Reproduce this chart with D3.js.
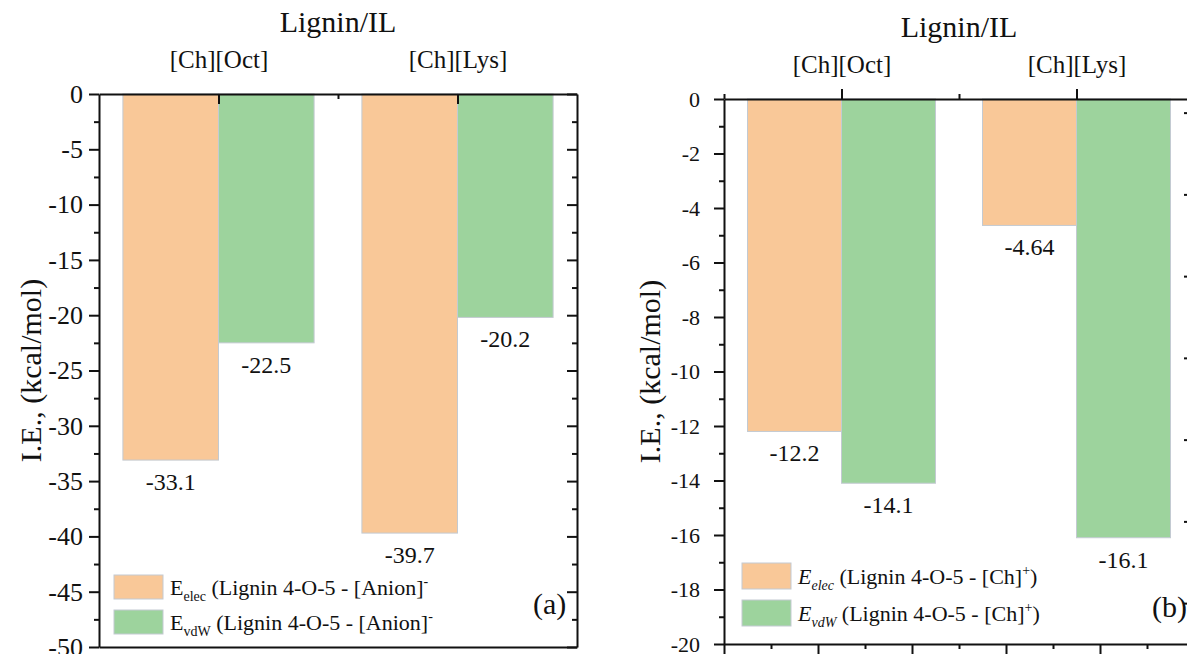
<!DOCTYPE html>
<html>
<head>
<meta charset="utf-8">
<script src="https://cdn.jsdelivr.net/npm/d3@7"></script>
<style>
  html, body { margin: 0; padding: 0; background: #fff; }
  svg { display: block; }
  text { font-family: "Liberation Serif", "Times New Roman", serif; fill: #111; }
</style>
</head>
<body>
<svg id="chart" width="1187" height="654"></svg>
<script>
// Interaction energies of lignin 4-O-5 with the ionic liquids (kcal/mol)
const categories = ["[Ch][Oct]", "[Ch][Lys]"];
const elecAnion = [-33.1, -39.7];
const vdwAnion = [-22.5, -20.2];
const elecCation = [-12.2, -4.64];
const vdwCation = [-14.1, -16.1];

const yMajorA = [0, -5, -10, -15, -20, -25, -30, -35, -40, -45, -50];
const yMinorA = [-2.5, -7.5, -12.5, -17.5, -22.5, -27.5, -32.5, -37.5, -42.5, -47.5];
const yMajorB = [0, -2, -4, -6, -8, -10, -12, -14, -16, -18, -20];
const yMinorB = [-1, -3, -5, -7, -9, -11, -13, -15, -17, -19];
// right-hand axis of panel (b) keeps its own tick spacing
const yRightMajorB = [-0.5, -3.5, -6.5, -9.5, -12.5, -15.5, -18.5];
const yRightMinorB = [-2, -5, -8, -11, -14, -17, -20];
const xBottomMajorB = [0.5, 0.9, 1.3, 1.7, 2.1, 2.5];
const xBottomMinorB = [0.7, 1.1, 1.5, 1.9, 2.3];

const ORANGE = "#f9c898";
const GREEN = "#9dd39d";
const EDGE = "#c3cad2";
const BAR_W = 0.4;

const svg = d3.select("#chart");
svg.append("rect").attr("width", 1187).attr("height", 654).attr("fill", "#fff");

function styleAxis(g, showDomain) {
  g.attr("font-family", null);
  g.selectAll("path.domain").attr("stroke", showDomain ? "#111" : "none").attr("stroke-width", 2);
  g.selectAll(".tick line").attr("stroke", "#111").attr("stroke-width", 2);
  g.selectAll(".tick text").style("font-family", '"Liberation Serif", "Times New Roman", serif').attr("fill", "#111");
}

function drawPanel(opt) {
  const x = d3.scaleLinear().domain([0.5, 2.5]).range([opt.left, opt.right]);
  const y = d3.scaleLinear().domain(opt.yDomain).range([opt.bottom, opt.top]);
  const g = svg.append("g");

  // bars: orange to the left of each category tick, green to the right
  const rows = categories.map((c, i) => ({ pos: i + 1, elec: opt.elec[i], vdw: opt.vdw[i] }));
  const bars = [];
  rows.forEach(r => {
    bars.push({ x0: r.pos - BAR_W, x1: r.pos, v: r.elec, fill: ORANGE });
    bars.push({ x0: r.pos, x1: r.pos + BAR_W, v: r.vdw, fill: GREEN });
  });
  g.selectAll("rect.bar").data(bars).enter().append("rect")
    .attr("class", "bar")
    .attr("x", d => x(d.x0))
    .attr("width", d => x(d.x1) - x(d.x0))
    .attr("y", y(0))
    .attr("height", d => y(d.v) - y(0))
    .attr("fill", d => d.fill)
    .attr("stroke", EDGE)
    .attr("stroke-width", 1);

  // value labels below each bar end
  g.selectAll("text.val").data(bars).enter().append("text")
    .attr("class", "val")
    .attr("x", d => (x(d.x0) + x(d.x1)) / 2)
    .attr("y", d => y(d.v) + 30)
    .attr("text-anchor", "middle")
    .style("font-size", "24px")
    .text(d => String(d.v));

  // left axis (outward ticks with labels)
  const left = g.append("g").attr("transform", `translate(${opt.left},0)`)
    .call(d3.axisLeft(y).tickValues(opt.yMajor).tickSize(10).tickSizeOuter(0)
      .tickPadding(opt.yPad).tickFormat(d => String(d)));
  left.selectAll(".tick text").style("font-size", opt.yFont + "px");
  styleAxis(left, true);
  const leftMinor = g.append("g").attr("transform", `translate(${opt.left},0)`)
    .call(d3.axisLeft(y).tickValues(opt.yMinor).tickSize(5).tickFormat(""));
  styleAxis(leftMinor, false);

  // right axis (inward ticks)
  const right = g.append("g").attr("transform", `translate(${opt.right},0)`)
    .call(d3.axisRight(y).tickValues(opt.rMajor).tickSize(-10).tickSizeOuter(0).tickFormat(""));
  styleAxis(right, true);
  const rightMinor = g.append("g").attr("transform", `translate(${opt.right},0)`)
    .call(d3.axisRight(y).tickValues(opt.rMinor).tickSize(-5).tickFormat(""));
  styleAxis(rightMinor, false);

  // top axis with category names
  const ts = opt.topOutward ? 1 : -1;
  const top = g.append("g").attr("transform", `translate(0,${opt.top})`)
    .call(d3.axisTop(x).tickValues([1, 2]).tickSize(10 * ts).tickSizeOuter(0)
      .tickPadding(opt.catPad).tickFormat(d => categories[d - 1]));
  top.selectAll(".tick text").style("font-size", "25px");
  styleAxis(top, true);
  const topMinor = g.append("g").attr("transform", `translate(0,${opt.top})`)
    .call(d3.axisTop(x).tickValues(opt.topMinor).tickSize(5 * ts).tickFormat(""));
  styleAxis(topMinor, false);

  // bottom axis
  const bottom = g.append("g").attr("transform", `translate(0,${opt.bottom})`)
    .call(d3.axisBottom(x).tickValues(opt.bottomMajor).tickSize(10).tickSizeOuter(0).tickFormat(""));
  styleAxis(bottom, true);
  const bottomMinor = g.append("g").attr("transform", `translate(0,${opt.bottom})`)
    .call(d3.axisBottom(x).tickValues(opt.bottomMinor).tickSize(5).tickFormat(""));
  styleAxis(bottomMinor, false);

  // panel title
  g.append("text")
    .attr("x", (opt.left + opt.right) / 2)
    .attr("y", opt.titleY)
    .attr("text-anchor", "middle")
    .style("font-size", "30px")
    .text("Lignin/IL");

  // y axis title
  g.append("text")
    .attr("transform", `translate(${opt.yTitleX},${(opt.top + opt.bottom) / 2}) rotate(-90)`)
    .attr("text-anchor", "middle")
    .style("font-size", "30px")
    .text("I.E., (kcal/mol)");

  // legend
  const lg = g.append("g");
  const items = [
    { fill: ORANGE, sub: "elec" },
    { fill: GREEN, sub: "vdW" }
  ];
  items.forEach((it, i) => {
    const sy = opt.legY + i * opt.legStep;
    lg.append("rect")
      .attr("x", opt.legX).attr("y", sy)
      .attr("width", 49).attr("height", opt.legH)
      .attr("fill", it.fill).attr("stroke", EDGE).attr("stroke-width", 1);
    const t = lg.append("text")
      .attr("x", opt.legX + 56)
      .attr("y", sy + opt.legH / 2 + 8)
      .style("font-size", "22px");
    t.append("tspan").text("E").style("font-style", opt.italic ? "italic" : "normal");
    t.append("tspan").text(it.sub).attr("dy", 6).style("font-size", "14px")
      .style("font-style", opt.italic ? "italic" : "normal");
    t.append("tspan").text(" (Lignin 4-O-5 - " + opt.partner).attr("dy", -6);
    t.append("tspan").text(opt.charge).attr("dy", -9).style("font-size", "14px");
    if (opt.tail) t.append("tspan").text(opt.tail).attr("dy", 9);
  });

  // panel tag
  g.append("text")
    .attr("x", opt.tagX)
    .attr("y", opt.tagY)
    .style("font-size", "30px")
    .text(opt.tag);
}

drawPanel({
  left: 99, right: 577, top: 94, bottom: 647,
  yDomain: [-50, 0], yMajor: yMajorA, yMinor: yMinorA, yPad: 6, yFont: 26,
  rMajor: yMajorA, rMinor: yMinorA,
  elec: elecAnion, vdw: vdwAnion,
  topOutward: false, catPad: 26, topMinor: [1.5],
  bottomMajor: [], bottomMinor: [],
  titleY: 32, yTitleX: 41,
  legX: 114, legY: 575, legStep: 35, legH: 24, italic: false,
  partner: "[Anion]", charge: "-", tail: "",
  tag: "(a)", tagX: 533, tagY: 614
});

drawPanel({
  left: 724, right: 1194, top: 99, bottom: 644,
  yDomain: [-20, 0], yMajor: yMajorB, yMinor: yMinorB, yPad: 14, yFont: 22,
  rMajor: yRightMajorB, rMinor: yRightMinorB,
  elec: elecCation, vdw: vdwCation,
  topOutward: true, catPad: 16, topMinor: [0.5, 1.5, 2.5],
  bottomMajor: xBottomMajorB, bottomMinor: xBottomMinorB,
  titleY: 37, yTitleX: 660,
  legX: 742, legY: 563, legStep: 37, legH: 26, italic: true,
  partner: "[Ch]", charge: "+", tail: ")",
  tag: "(b)", tagX: 1152, tagY: 617
});
</script>
</body>
</html>
